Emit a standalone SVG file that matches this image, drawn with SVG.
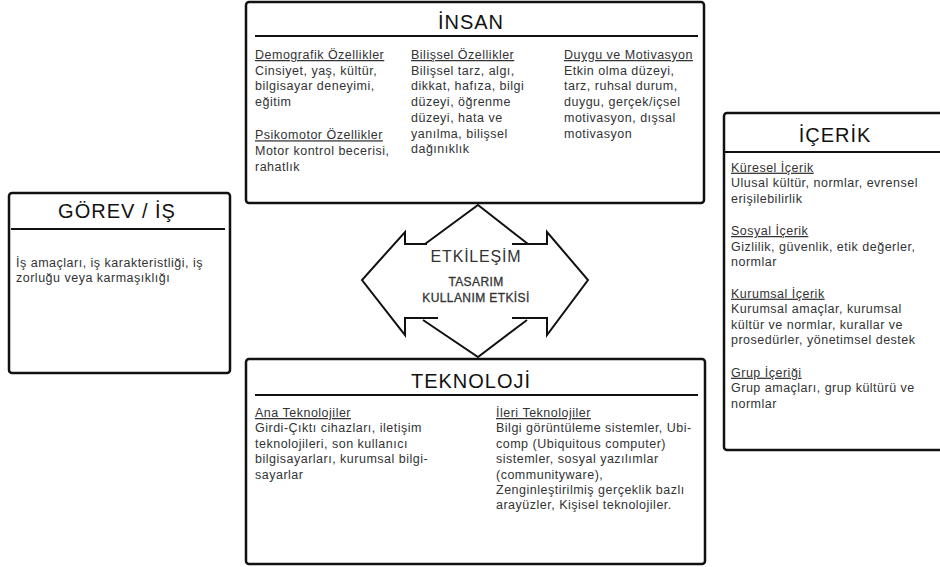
<svg xmlns="http://www.w3.org/2000/svg" width="940" height="567" viewBox="0 0 940 567">
<style>
.box{fill:#fff;stroke:#111;stroke-width:2.5}
.sep{stroke:#111;stroke-width:2}
.title{font-family:"Liberation Sans",Arial,sans-serif;font-size:20px;fill:#111;letter-spacing:1px;text-anchor:middle}
.body{font-family:"Liberation Sans",Arial,sans-serif;font-size:12.5px;fill:#333;letter-spacing:0.5px}
.hd{text-decoration:underline}
.arrow{fill:none;stroke:#111;stroke-width:2;stroke-linejoin:miter}
.mid{font-family:"Liberation Sans",Arial,sans-serif;fill:#333;text-anchor:middle}
</style>
<rect width="940" height="567" fill="#fff"/>
<g id="connectors">
<polygon points="478,205 527,244 547,244 547,232 588,280 547,335 547,318 527,318 478,357 424,318 405,318 405,335 362,280 405,232 405,244 425,244" fill="#fff" stroke="none"/>
<polyline class="arrow" points="425,244 478,205 528,244"/>
<polyline class="arrow" points="427,244 405,244 405,232 362,280 405,335 405,318 438,318"/>
<polyline class="arrow" points="512,244 547,244 547,232 588,280 547,335 547,318 512,318"/>
<polyline class="arrow" points="423,320 478,357 527,320"/>
<text class="mid" x="476" y="262" font-size="16" letter-spacing="0.8">ETKİLEŞİM</text>
<text class="mid" x="476" y="286" font-size="12" letter-spacing="0.4" stroke="#333" stroke-width="0.3">TASARIM</text>
<text class="mid" x="476" y="302" font-size="12" letter-spacing="0.4" stroke="#333" stroke-width="0.3">KULLANIM ETKİSİ</text>
</g>
<g id="insan">
<rect class="box" x="246" y="2" width="458" height="201" rx="3"/>
<text class="title" x="471" y="29">İNSAN</text>
<line class="sep" x1="255" y1="36" x2="698" y2="36"/>
<text class="body" x="255" y="59"><tspan class="hd">Demografik Özellikler</tspan><tspan x="255" dy="15.7">Cinsiyet, yaş, kültür,</tspan><tspan x="255" dy="15.7">bilgisayar deneyimi,</tspan><tspan x="255" dy="15.7">eğitim</tspan></text>
<text class="body" x="255" y="139.3"><tspan class="hd">Psikomotor Özellikler</tspan><tspan x="255" dy="15.7">Motor kontrol becerisi,</tspan><tspan x="255" dy="15.7">rahatlık</tspan></text>
<text class="body" x="411" y="59"><tspan class="hd">Bilişsel Özellikler</tspan><tspan x="411" dy="15.7">Bilişsel tarz, algı,</tspan><tspan x="411" dy="15.7">dikkat, hafıza, bilgi</tspan><tspan x="411" dy="15.7">düzeyi, öğrenme</tspan><tspan x="411" dy="15.7">düzeyi, hata ve</tspan><tspan x="411" dy="15.7">yanılma, bilişsel</tspan><tspan x="411" dy="15.7">dağınıklık</tspan></text>
<text class="body" x="564" y="59"><tspan class="hd">Duygu ve Motivasyon</tspan><tspan x="564" dy="15.7">Etkin olma düzeyi,</tspan><tspan x="564" dy="15.7">tarz, ruhsal durum,</tspan><tspan x="564" dy="15.7">duygu, gerçek/içsel</tspan><tspan x="564" dy="15.7">motivasyon, dışsal</tspan><tspan x="564" dy="15.7">motivasyon</tspan></text>
</g>
<g id="teknoloji">
<rect class="box" x="246" y="359" width="459" height="205" rx="3"/>
<text class="title" x="471" y="388">TEKNOLOJİ</text>
<line class="sep" x1="255" y1="395" x2="698" y2="395"/>
<text class="body" x="255" y="417"><tspan class="hd">Ana Teknolojiler</tspan><tspan x="255" dy="15.4">Girdi-Çıktı cihazları, iletişim</tspan><tspan x="255" dy="15.4">teknolojileri, son kullanıcı</tspan><tspan x="255" dy="15.4">bilgisayarları, kurumsal bilgi-</tspan><tspan x="255" dy="15.4">sayarlar</tspan></text>
<text class="body" x="496" y="417"><tspan class="hd">İleri Teknolojiler</tspan><tspan x="496" dy="15.4">Bilgi görüntüleme sistemler, Ubi-</tspan><tspan x="496" dy="15.4">comp (Ubiquitous computer)</tspan><tspan x="496" dy="15.4">sistemler, sosyal yazılımlar</tspan><tspan x="496" dy="15.4">(communityware),</tspan><tspan x="496" dy="15.4">Zenginleştirilmiş gerçeklik bazlı</tspan><tspan x="496" dy="15.4">arayüzler, Kişisel teknolojiler.</tspan></text>
</g>
<g id="icerik">
<rect class="box" x="724" y="113" width="240" height="337" rx="3"/>
<text class="title" x="835" y="142">İÇERİK</text>
<line class="sep" x1="724" y1="152" x2="940" y2="152"/>
<text class="body" x="731" y="171.7"><tspan class="hd">Küresel İçerik</tspan><tspan x="731" dy="15.7">Ulusal kültür, normlar, evrensel</tspan><tspan x="731" dy="15.7">erişilebilirlik</tspan></text>
<text class="body" x="731" y="235"><tspan class="hd">Sosyal İçerik</tspan><tspan x="731" dy="15.5">Gizlilik, güvenlik, etik değerler,</tspan><tspan x="731" dy="15.5">normlar</tspan></text>
<text class="body" x="731" y="297.7"><tspan class="hd">Kurumsal İçerik</tspan><tspan x="731" dy="15.5">Kurumsal amaçlar, kurumsal</tspan><tspan x="731" dy="15.5">kültür ve normlar, kurallar ve</tspan><tspan x="731" dy="15.5">prosedürler, yönetimsel destek</tspan></text>
<text class="body" x="731" y="376.7"><tspan class="hd">Grup İçeriği</tspan><tspan x="731" dy="15.5">Grup amaçları, grup kültürü ve</tspan><tspan x="731" dy="15.5">normlar</tspan></text>
</g>
<g id="gorev">
<rect class="box" x="9" y="193" width="221" height="180" rx="3"/>
<text class="title" x="117" y="218">GÖREV / İŞ</text>
<line class="sep" x1="11" y1="229" x2="225" y2="229"/>
<text class="body" x="16" y="267"><tspan>İş amaçları, iş karakteristliği, iş</tspan><tspan x="16" dy="15">zorluğu veya karmaşıklığı</tspan></text>
</g>
</svg>
